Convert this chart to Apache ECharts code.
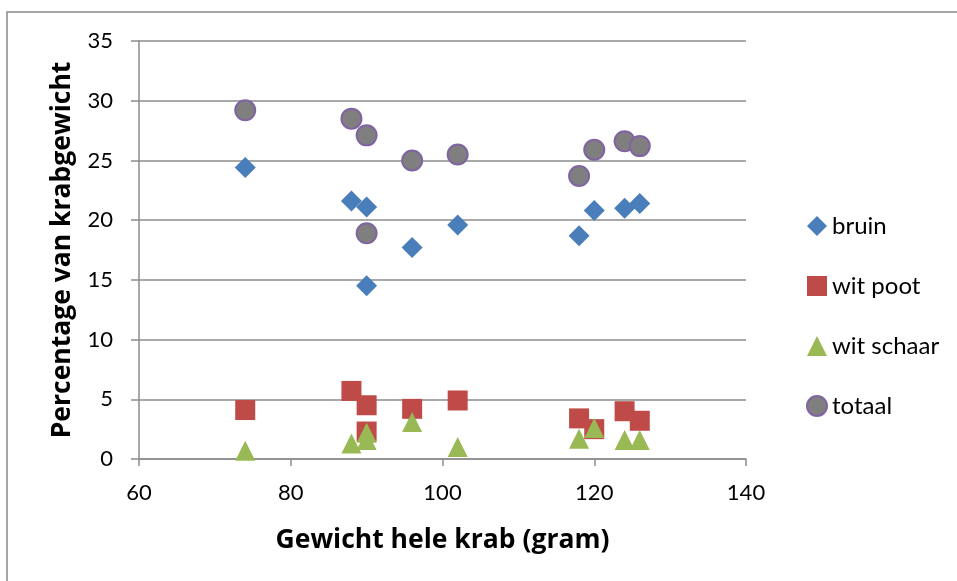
<!DOCTYPE html>
<html>
<head>
<meta charset="utf-8">
<script src="https://cdn.jsdelivr.net/npm/echarts@6/dist/echarts.min.js"></script>
<style>html,body{margin:0;padding:0;background:#fff}#c{width:957px;height:581px}</style>
</head>
<body>
<div id="c"></div>
<script>
var xWeight = [74, 88, 90, 90, 96, 102, 118, 120, 124, 126];
var bruin = [24.4, 21.6, 21.1, 14.5, 17.7, 19.6, 18.7, 20.8, 21.0, 21.4];
var witPoot = [4.1, 5.7, 4.5, 2.3, 4.2, 4.9, 3.4, 2.5, 4.0, 3.2];
var witSchaar = [0.7, 1.3, 2.2, 1.6, 3.1, 1.0, 1.7, 2.6, 1.6, 1.6];
var totaal = [29.2, 28.5, 27.1, 18.9, 25.0, 25.5, 23.7, 25.9, 26.6, 26.2];
var seriesNames = ['bruin', 'wit poot', 'wit schaar', 'totaal'];
var xTitle = 'Gewicht hele krab (gram)';
var yTitle = 'Percentage van krabgewicht';

function pairs(ys) { return xWeight.map(function (x, i) { return [x, ys[i]]; }); }

var font = 'Lato, "Open Sans", sans-serif';
var tfont = '"Open Sans", Lato, sans-serif';
var chart = echarts.init(document.getElementById('c'), null, {renderer: 'canvas'});
chart.setOption({
  animation: false,
  backgroundColor: '#fff',
  graphic: [{
    type: 'rect', shape: {x: 7, y: 12, width: 980, height: 620},
    style: {fill: 'none', stroke: '#8a8a8a', lineWidth: 1.5}, silent: true, z: -1
  }],
  grid: {left: 139, right: 211, top: 41, bottom: 122, containLabel: false},
  xAxis: {
    type: 'value', min: 60, max: 140, interval: 20,
    name: xTitle, nameLocation: 'middle', nameGap: 68,
    nameTextStyle: {fontFamily: tfont, fontSize: 26.5, fontWeight: 'bold', color: '#000'},
    axisLine: {show: true, onZero: false, lineStyle: {color: '#8c8c8c', width: 1.5}},
    axisTick: {show: true, inside: false, length: 7, lineStyle: {color: '#8c8c8c', width: 1.5}},
    axisLabel: {fontFamily: font, fontSize: 22, color: '#000', margin: 23},
    splitLine: {show: false}
  },
  yAxis: {
    type: 'value', min: 0, max: 35, interval: 5,
    name: yTitle, nameLocation: 'middle', nameGap: 63, nameRotate: 90,
    nameTextStyle: {fontFamily: tfont, fontSize: 26.5, fontWeight: 'bold', color: '#000'},
    axisLine: {show: true, onZero: false, lineStyle: {color: '#8c8c8c', width: 1.5}},
    axisTick: {show: true, inside: false, length: 8, lineStyle: {color: '#8c8c8c', width: 1.5}},
    axisLabel: {fontFamily: font, fontSize: 22, color: '#000', margin: 26},
    splitLine: {show: true, lineStyle: {color: '#8c8c8c', width: 1.5}}
  },
  legend: {
    orient: 'vertical', left: 806, top: 214, padding: 0, itemGap: 36, itemWidth: 20, itemHeight: 20,
    textStyle: {fontFamily: font, fontSize: 24, color: '#000', padding: [0, 0, 0, 0]},
    data: seriesNames
  },
  series: [
    {name: seriesNames[0], type: 'scatter', symbol: 'diamond', symbolSize: [21, 21],
     itemStyle: {color: '#4a7ebb', opacity: 1}, data: pairs(bruin)},
    {name: seriesNames[1], type: 'scatter', symbol: 'rect', symbolSize: 20,
     itemStyle: {color: '#be4b48', opacity: 1}, data: pairs(witPoot)},
    {name: seriesNames[2], type: 'scatter', symbol: 'triangle', symbolSize: 20,
     itemStyle: {color: '#98b954', opacity: 1}, data: pairs(witSchaar)},
    {name: seriesNames[3], type: 'scatter', symbol: 'circle', symbolSize: 20,
     itemStyle: {color: '#7f7f7f', borderColor: '#8064a2', borderWidth: 2, opacity: 1}, data: pairs(totaal)}
  ]
});
</script>
</body>
</html>
